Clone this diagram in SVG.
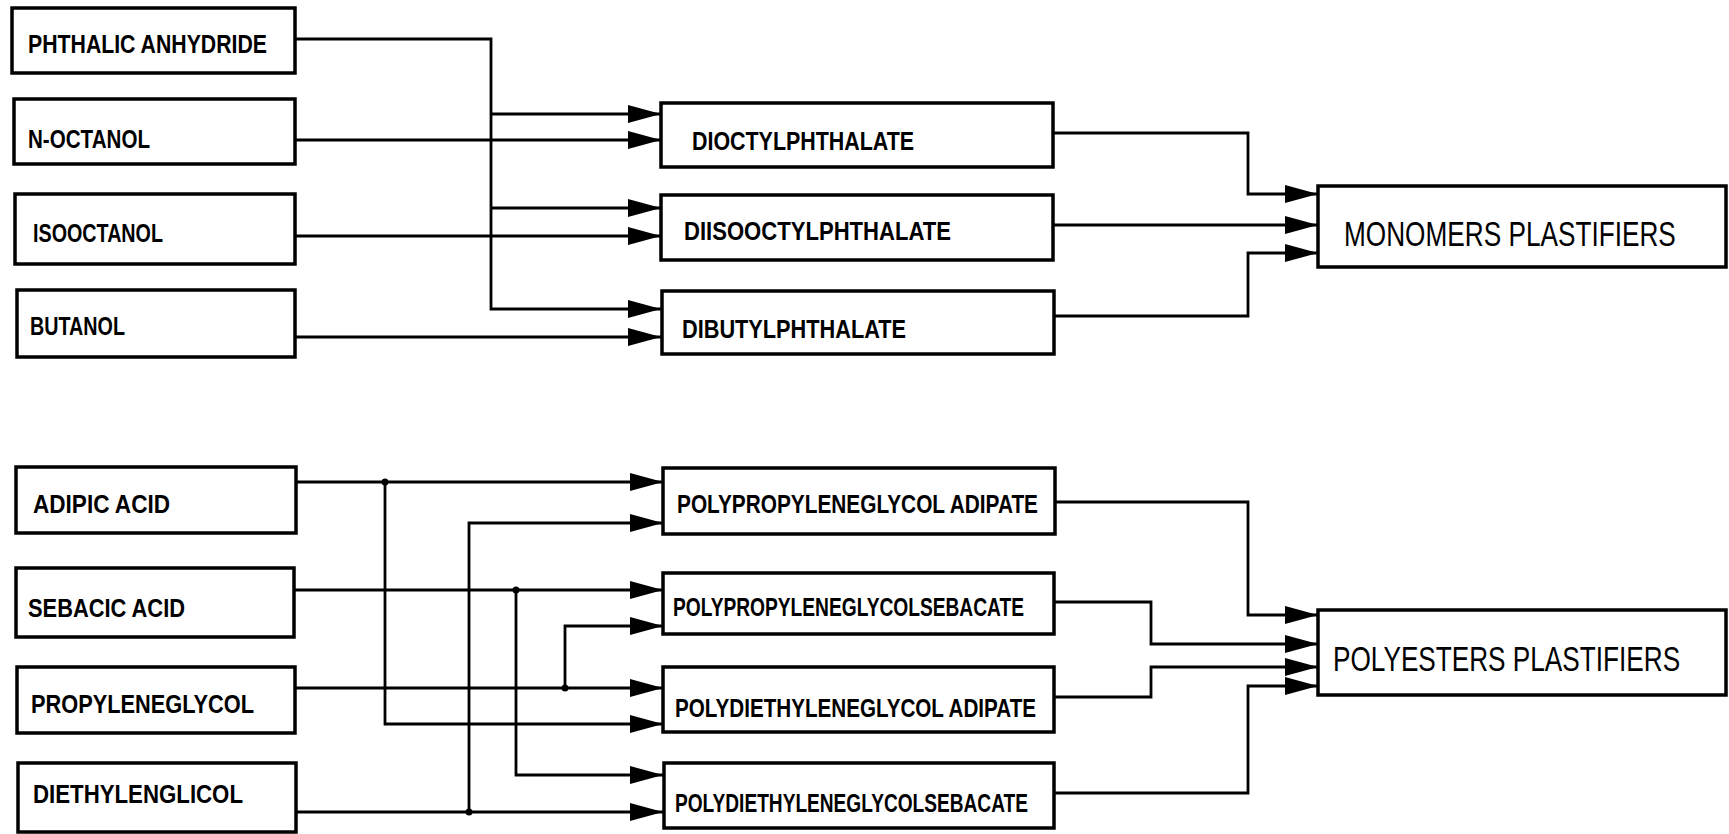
<svg xmlns="http://www.w3.org/2000/svg" width="1729" height="834" viewBox="0 0 1729 834">
<defs>
<marker id="arr" markerUnits="userSpaceOnUse" markerWidth="36" markerHeight="20" refX="33" refY="9" orient="auto"><path d="M0,0 L33,9 L0,18 z" fill="#000"/></marker>
<style>
.box{fill:#fff;stroke:#000;stroke-width:3.5}
.t{font-family:"Liberation Sans",Arial,sans-serif;font-weight:bold;font-size:25px;fill:#000}
.big{font-family:"Liberation Sans",Arial,sans-serif;font-size:36px;fill:#000}
.ln{fill:none;stroke:#000;stroke-width:2.8}
.ar{marker-end:url(#arr)}
</style>
</defs>
<rect width="1729" height="834" fill="#fff"/>
<g id="connectors">
<path class="ln ar" d="M295,39 H491 V309 H661"/>
<path class="ln ar" d="M491,114 H661"/>
<path class="ln ar" d="M491,208 H661"/>
<path class="ln ar" d="M295,140 H661"/>
<path class="ln ar" d="M295,236 H661"/>
<path class="ln ar" d="M295,337 H661"/>
<path class="ln ar" d="M1053,133 H1248 V194 H1318"/>
<path class="ln ar" d="M1053,225 H1318"/>
<path class="ln ar" d="M1053,316 H1248 V253 H1318"/>
<path class="ln ar" d="M296,482 H663"/>
<path class="ln ar" d="M385,482 V724 H663"/>
<path class="ln ar" d="M294,590 H663"/>
<path class="ln ar" d="M516,590 V775 H663"/>
<path class="ln ar" d="M295,688 H663"/>
<path class="ln ar" d="M565,688 V626 H663"/>
<path class="ln ar" d="M296,812 H663"/>
<path class="ln ar" d="M469,812 V523 H663"/>
<circle cx="385" cy="482" r="3.5"/>
<circle cx="516" cy="590" r="3.5"/>
<circle cx="565" cy="688" r="3.5"/>
<circle cx="469" cy="812" r="3.5"/>
<path class="ln ar" d="M1055,502 H1248 V615 H1318"/>
<path class="ln ar" d="M1054,602 H1151 V644 H1318"/>
<path class="ln ar" d="M1054,697 H1151 V667 H1318"/>
<path class="ln ar" d="M1054,793 H1248 V686 H1318"/>
</g>
<g id="phthalic-anhydride"><rect class="box" x="12" y="8" width="283" height="65"/><text class="t" x="28" y="53" textLength="239" lengthAdjust="spacingAndGlyphs">PHTHALIC ANHYDRIDE</text></g>
<g id="n-octanol"><rect class="box" x="14" y="99" width="281" height="65"/><text class="t" x="28" y="148" textLength="122" lengthAdjust="spacingAndGlyphs">N-OCTANOL</text></g>
<g id="isooctanol"><rect class="box" x="15" y="194" width="280" height="70"/><text class="t" x="33" y="242" textLength="130" lengthAdjust="spacingAndGlyphs">ISOOCTANOL</text></g>
<g id="butanol"><rect class="box" x="17" y="290" width="278" height="67"/><text class="t" x="30" y="335" textLength="95" lengthAdjust="spacingAndGlyphs">BUTANOL</text></g>
<g id="dioctylphthalate"><rect class="box" x="661" y="103" width="392" height="64"/><text class="t" x="692" y="150" textLength="222" lengthAdjust="spacingAndGlyphs">DIOCTYLPHTHALATE</text></g>
<g id="diisooctylphthalate"><rect class="box" x="661" y="195" width="392" height="65"/><text class="t" x="684" y="240" textLength="267" lengthAdjust="spacingAndGlyphs">DIISOOCTYLPHTHALATE</text></g>
<g id="dibutylphthalate"><rect class="box" x="662" y="291" width="392" height="63"/><text class="t" x="682" y="338" textLength="224" lengthAdjust="spacingAndGlyphs">DIBUTYLPHTHALATE</text></g>
<g id="monomers-plastifiers"><rect class="box" x="1318" y="186" width="408" height="81"/><text class="big" transform="translate(1344,246) scale(0.728,1)">MONOMERS PLASTIFIERS</text></g>
<g id="adipic-acid"><rect class="box" x="16" y="467" width="280" height="66"/><text class="t" x="33" y="513" textLength="137" lengthAdjust="spacingAndGlyphs">ADIPIC ACID</text></g>
<g id="sebacic-acid"><rect class="box" x="16" y="568" width="278" height="69"/><text class="t" x="28" y="617" textLength="157" lengthAdjust="spacingAndGlyphs">SEBACIC ACID</text></g>
<g id="propyleneglycol"><rect class="box" x="17" y="667" width="278" height="66"/><text class="t" x="31" y="713" textLength="223" lengthAdjust="spacingAndGlyphs">PROPYLENEGLYCOL</text></g>
<g id="diethylenglicol"><rect class="box" x="18" y="763" width="278" height="69"/><text class="t" x="33" y="803" textLength="210" lengthAdjust="spacingAndGlyphs">DIETHYLENGLICOL</text></g>
<g id="ppg-adipate"><rect class="box" x="663" y="468" width="392" height="66"/><text class="t" x="677" y="513" textLength="361" lengthAdjust="spacingAndGlyphs">POLYPROPYLENEGLYCOL ADIPATE</text></g>
<g id="ppg-sebacate"><rect class="box" x="663" y="573" width="391" height="61"/><text class="t" x="673" y="616" textLength="351" lengthAdjust="spacingAndGlyphs">POLYPROPYLENEGLYCOLSEBACATE</text></g>
<g id="pdeg-adipate"><rect class="box" x="663" y="667" width="391" height="65"/><text class="t" x="675" y="717" textLength="361" lengthAdjust="spacingAndGlyphs">POLYDIETHYLENEGLYCOL ADIPATE</text></g>
<g id="pdeg-sebacate"><rect class="box" x="664" y="763" width="390" height="65"/><text class="t" x="675" y="812" textLength="353" lengthAdjust="spacingAndGlyphs">POLYDIETHYLENEGLYCOLSEBACATE</text></g>
<g id="polyesters-plastifiers"><rect class="box" x="1318" y="610" width="408" height="85"/><text class="big" transform="translate(1333,671) scale(0.727,1)">POLYESTERS PLASTIFIERS</text></g>
</svg>
